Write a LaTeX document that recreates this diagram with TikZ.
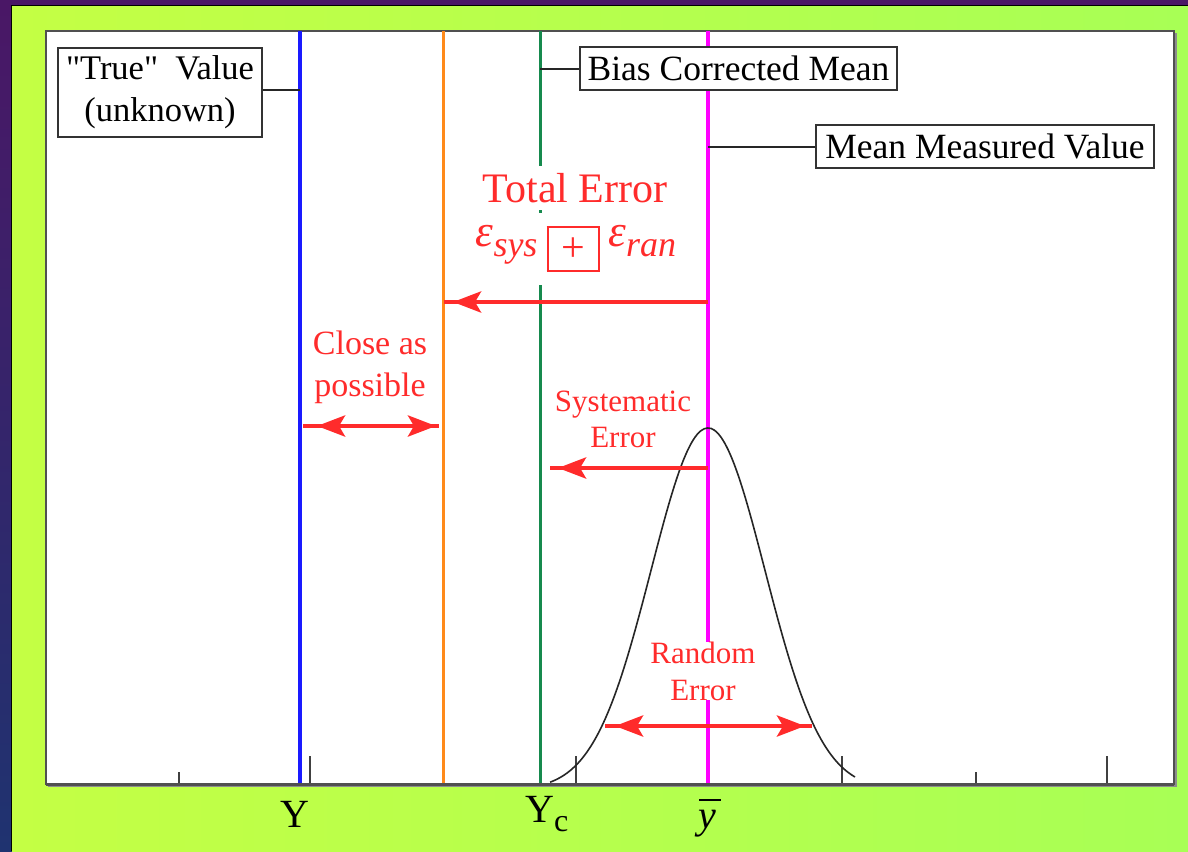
\documentclass[tikz,border=0pt]{standalone}
\usepackage{fontspec}
\setmainfont{Liberation Serif}[Ligatures=TeX]
\newfontfamily\tnr{Liberation Serif}
\usetikzlibrary{arrows.meta,decorations.markings}
\definecolor{bgtop}{HTML}{4A1766}
\definecolor{bgbot}{HTML}{1F3370}
\definecolor{gleft}{HTML}{C4FF44}
\definecolor{gmid}{HTML}{8CFF6E}
\definecolor{gright}{HTML}{A8FF55}
\definecolor{lblue}{HTML}{1A1AFF}
\definecolor{lorange}{HTML}{FF8A1A}
\definecolor{lgreen}{HTML}{168A4E}
\definecolor{lmag}{HTML}{FF00FF}
\definecolor{errred}{HTML}{FF2B2B}
\definecolor{framec}{HTML}{505050}
\newcommand\epsub[1]{{\fontsize{45}{45}\selectfont\tnr\itshape ε}\raisebox{-10pt}{\fontsize{36}{36}\selectfont\tnr\itshape #1}}
\tikzset{
  boxlbl/.style={draw=black!80, line width=2.5pt, fill=white, inner sep=0pt, align=center, font=\tnr\fontsize{35.5}{42}\selectfont},
  conn/.style={draw=black!85, line width=2pt},
  vline/.style={line width=#1},
  tickmark/.style={draw=black!75, line width=2.5pt},
  redtxt/.style={text=errred, align=center, inner sep=0pt},
  redarr/.style={draw=errred, line width=4.5pt},
  tipstart/.style={postaction={decorate, decoration={markings, mark=at position #1 with {\arrowreversed[errred]{Stealth[length=28pt,width=21pt,inset=6pt]}}}}},
  tipend/.style={postaction={decorate, decoration={markings, mark=at position -#1 with {\arrow[errred]{Stealth[length=28pt,width=21pt,inset=6pt]}}}}},
  axislbl/.style={inner sep=0pt, font=\tnr\fontsize{40}{40}\selectfont}
}
\begin{document}
\begin{tikzpicture}[x=1pt,y=-1pt]
\useasboundingbox (0,0) rectangle (1188,851);
% background
\shade[top color=bgtop, bottom color=bgbot] (0,0) rectangle (1188,851);
\shade[left color=gleft, middle color=gmid, right color=gright] (12,6) rectangle (1188,851);
\draw[black, line width=1.5pt] (11.5,851) -- (11.5,5.5) -- (1188,5.5);
% plot frame
\fill[black!45] (48,33) rectangle (1177,787);
\draw[draw=framec, line width=2.5pt, fill=white] (46,31) rectangle (1174,784);
% ticks
\foreach \tx/\tl in {179/12, 310/28, 443/12, 576/28, 708/12, 842/28, 976/12, 1107/28}
  \draw[tickmark] (\tx,784) -- (\tx,784-\tl);
% vertical lines
\coordinate (blueT) at (300,31);   \coordinate (blueB) at (300,784);
\coordinate (orT) at (443,31);     \coordinate (orB) at (443,784);
\coordinate (grT) at (540,31);     \coordinate (grB) at (540,784);
\coordinate (mgT) at (708,31);     \coordinate (mgB) at (708,784);
\draw[lblue, vline=4pt] (blueT) -- (blueB);
\draw[lorange, vline=3pt] (orT) -- (orB);
\draw[lgreen, vline=3pt] (grT) -- (grB);
\draw[lmag, vline=4pt] (mgT) -- (mgB);
% axis
\draw[framec, line width=3pt] (46,784) -- (1174,784);
% gaussian
\draw[black!85, line width=1.6pt] plot[domain=-2.77:2.58, samples=90, smooth] ({708+57*\x},{790-362*exp(-\x*\x/2)});
% label boxes
\node[boxlbl, minimum width=204pt, minimum height=89pt, font=\tnr\fontsize{34.5}{42}\selectfont] (trueb) at (160,92.5) {\textquotedbl True\textquotedbl\ \ Value\\(unknown)};
\node[boxlbl, minimum width=317pt, minimum height=43pt] (biasb) at (738.5,68.5) {Bias Corrected Mean};
\node[boxlbl, minimum width=338pt, minimum height=43pt] (meanb) at (985,146.5) {Mean Measured Value};
\coordinate (blueC) at (300,90);
\coordinate (grC) at (540,69);
\coordinate (mgC) at (708,147);
\draw[conn] (blueC) -- (trueb.east |- blueC);
\draw[conn] (grC) -- (biasb.west |- grC);
\draw[conn] (mgC) -- (meanb.west |- mgC);
% red texts
\node[redtxt, fill=white, minimum height=44pt, inner xsep=3pt, font=\tnr\fontsize{42}{42}\selectfont] (tot) at (575,188) {Total Error};
\node[redtxt, fill=white, minimum width=216pt, minimum height=72pt] (esum) at (576,249)
  {\epsub{sys}\hspace{9pt}{\setlength{\fboxrule}{2pt}\setlength{\fboxsep}{0pt}\raisebox{-5pt}{\fbox{\parbox[c][42pt][c]{49pt}{\centering\tnr\fontsize{42}{42}\selectfont +}}}}\hspace{9pt}\epsub{ran}};
\node[redtxt, font=\tnr\fontsize{34}{42}\selectfont] (close) at (370,367) {Close as\\possible};
\node[redtxt, font=\tnr\fontsize{31}{36}\selectfont] (syst) at (623,419) {Systematic\\Error};
\node[redtxt, fill=white, font=\tnr\fontsize{31}{37}\selectfont] (rand) at (703,671) {Random\\Error};
% red arrows
\coordinate (totS) at (708,302);  \coordinate (totE) at (444,302);
\coordinate (clL) at (303,426);   \coordinate (clR) at (439,426);
\coordinate (syS) at (708,468);   \coordinate (syE) at (550,468);
\coordinate (rdL) at (605,726);   \coordinate (rdR) at (812,726);
\draw[redarr, tipend=9pt] (totS) -- (totE);
\draw[redarr, tipstart=14pt, tipend=3pt] (clL) -- (clR);
\draw[redarr, tipend=8pt] (syS) -- (syE);
\draw[redarr, tipstart=10pt, tipend=7pt] (rdL) -- (rdR);
% axis labels
\node[axislbl] (ylab) at (295,814) {Y};
\node[axislbl, anchor=west] (yclab) at (525,814) {Y\raisebox{-9pt}{\fontsize{32}{32}\selectfont c}};
\node[axislbl] (ybar) at (707,818) {\makebox[0pt][l]{\hspace{1pt}\rule[27pt]{22pt}{2.2pt}}\itshape y};
\end{tikzpicture}
\end{document}
